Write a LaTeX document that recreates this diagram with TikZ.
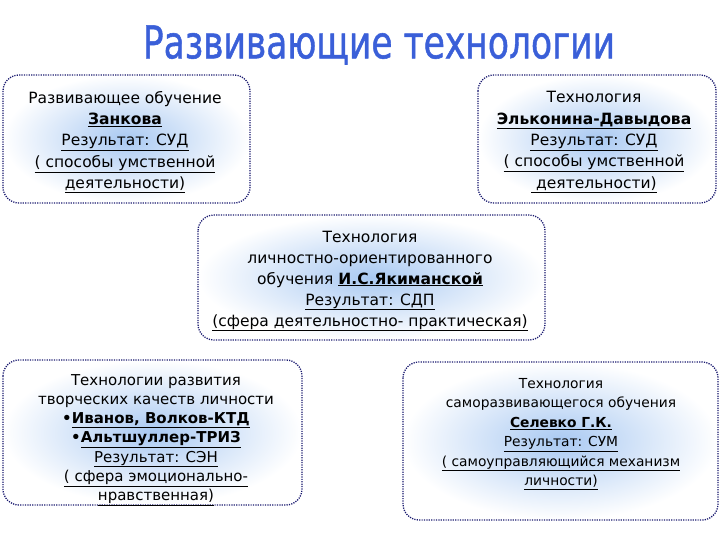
\documentclass[tikz,border=0pt]{standalone}
\usepackage{fontspec}
\setmainfont{DejaVu Sans}
\newfontfamily\titlefont[FakeBold=1.2]{DejaVu Sans}
\usetikzlibrary{shadings}
\definecolor{navy}{HTML}{1A1A70}
\definecolor{boxblue}{HTML}{A9C9F2}
\definecolor{titleblue}{HTML}{3A5FD8}
\tikzset{
  techbox/.style={rounded corners=16pt, inner color=boxblue, outer color=white},
  techborder/.style={rounded corners=16pt, draw=navy, line width=1.3pt, dash pattern=on 1.2pt off 1.2pt},
  techtext/.style={align=center, text=black, inner sep=0pt},
  titletext/.style={inner sep=0pt, font=\titlefont\fontsize{30}{30}\selectfont},
}
\newcommand{\ul}[1]{\underline{#1}}
\begin{document}
\begin{tikzpicture}[x=1pt,y=-1pt]
\useasboundingbox (0,0) rectangle (720,540);
% title
\node[titletext, text=titleblue] (title) at (379,45) {\scalebox{1.15}[1.5]{Развивающие технологии}};
% box 1
\shade[techbox] (3,75) rectangle (250,203);
\draw[techborder] (3,75) rectangle (250,203);
\node[techtext, font=\fontsize{15.5}{21.3}\selectfont] (b1) at (125,142)
 {Развивающее обучение\\ \textbf{\ul{Занкова}}\\ \ul{Результат: СУД}\\ \ul{( способы умственной}\\ \ul{деятельности)}};
% box 2
\shade[techbox] (478,75) rectangle (716,203);
\draw[techborder] (478,75) rectangle (716,203);
\node[techtext, font=\fontsize{15.5}{21.3}\selectfont] (b2) at (594,142)
 {Технология\\ \textbf{\ul{Эльконина-Давыдова}}\\ \ul{Результат: СУД}\\ \ul{( способы умственной}\\ \ul{ деятельности)}};
% box 3
\shade[techbox] (198,215) rectangle (545,340);
\draw[techborder] (198,215) rectangle (545,340);
\node[techtext, font=\fontsize{15.5}{21}\selectfont] (b3) at (370,281)
 {Технология\\ личностно-ориентированного\\ обучения \textbf{\ul{И.С.Якиманской}}\\ \ul{Результат: СДП}\\ \ul{(сфера деятельностно- практическая)}};
% box 4
\shade[techbox] (3,360) rectangle (302,505);
\draw[techborder] (3,360) rectangle (302,505);
\node[techtext, font=\fontsize{15}{19.2}\selectfont] (b4) at (156,440)
 {Технологии развития\\ творческих качеств личности\\ \textbf{•\ul{Иванов, Волков-КТД}}\\ \textbf{•\ul{Альтшуллер-ТРИЗ}}\\ \ul{Результат: СЭН}\\ \ul{( сфера эмоционально-}\\ \ul{нравственная)}};
% box 5
\shade[techbox] (403,362) rectangle (718,520);
\draw[techborder] (403,362) rectangle (718,520);
\node[techtext, font=\fontsize{13.8}{19.5}\selectfont] (b5) at (561,434)
 {Технология\\ саморазвивающегося обучения\\ \textbf{\ul{Селевко Г.К.}}\\ \ul{Результат: СУМ}\\ \ul{( самоуправляющийся механизм}\\ \ul{личности)}};
\end{tikzpicture}
\end{document}
